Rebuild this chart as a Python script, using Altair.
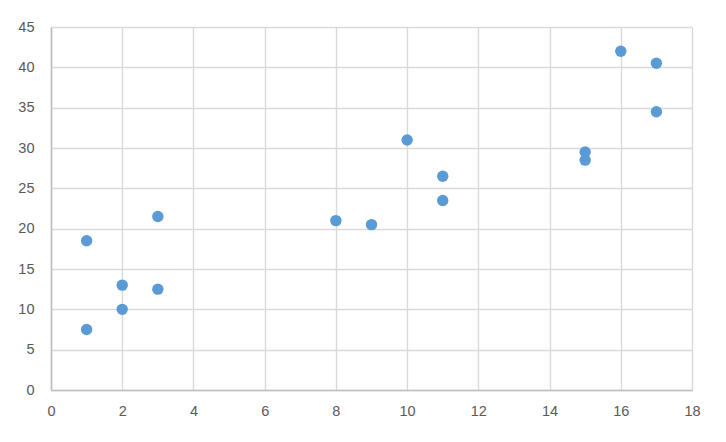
import altair as alt
import pandas as pd

xs = [1, 1, 2, 2, 3, 3, 8, 9, 10, 11, 11, 15, 15, 16, 17, 17]
ys = [18.5, 7.5, 13, 10, 21.5, 12.5, 21, 20.5, 31, 26.5, 23.5, 29.5, 28.5, 42, 40.5, 34.5]

df = pd.DataFrame({"x": xs, "y": ys})

chart = alt.Chart(df).mark_circle(size=130, color="#5b9bd5", opacity=1).encode(
    x=alt.X("x:Q", scale=alt.Scale(domain=[0, 18], nice=False, zero=True),
            axis=alt.Axis(values=list(range(0, 19, 2)), title=None)),
    y=alt.Y("y:Q", scale=alt.Scale(domain=[0, 45], nice=False),
            axis=alt.Axis(values=list(range(0, 46, 5)), title=None)),
).properties(
    width=641, height=363,
    autosize=alt.AutoSizeParams(type="none"),
    padding={"left": 43, "top": 19, "right": 20, "bottom": 30},
).configure_view(
    stroke=None
).configure_axis(
    grid=True, gridColor="#d9d9d9", gridWidth=1.4,
    domainColor="#bfbfbf", domainWidth=1.6,
    ticks=False, labelColor="#595959", labelFont="Liberation Sans",
    labelFontSize=14.5, labelFlush=False,
).configure_axisX(
    labelPadding=14
).configure_axisY(
    labelPadding=17
)

chart.save("out.html", embed_options={"renderer": "svg", "actions": False})
